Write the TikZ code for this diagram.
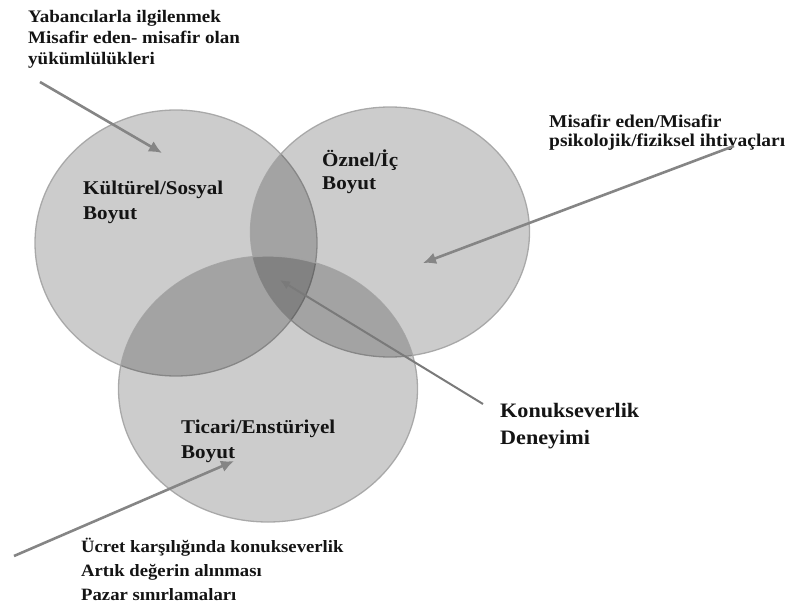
\documentclass[tikz,border=0pt]{standalone}
\usepackage{fontspec}
\setmainfont{Liberation Serif}[FakeStretch=1.08]
\usetikzlibrary{arrows.meta,shapes.geometric}
\begin{document}
\begin{tikzpicture}[x=1pt,y=-1pt,
  venn/.style={ellipse, draw=black!36, line width=1.3pt, fill=black, fill opacity=0.2, draw opacity=0.9, inner sep=0pt},
  lbl/.style={text=black!92, align=left, anchor=base west, inner sep=0pt},
  arr/.style={draw=black!48, line width=2.6pt, -{Latex[length=13pt,width=12pt]}},
]
\useasboundingbox (0,0) rectangle (792,612);
% circles
\node[venn, minimum width=282pt, minimum height=266pt] (kul) at (176,243) {};
\node[venn, minimum width=279pt, minimum height=250pt] (ozn) at (390,232) {};
\node[venn, minimum width=299pt, minimum height=266pt] (tic) at (268,389) {};
% circle labels (anchored at baseline of last line)
\node[lbl, font=\bfseries\fontsize{19.5}{25}\selectfont] (tkul) at (83,220) {Kültürel/Sosyal\\Boyut};
\node[lbl, font=\bfseries\fontsize{19.5}{23}\selectfont] (tozn) at (322,190) {Öznel/İç\\Boyut};
\node[lbl, font=\bfseries\fontsize{19.5}{25}\selectfont] (ttic) at (181,458) {Ticari/Enstüriyel\\Boyut};
% outer labels
\node[lbl, font=\bfseries\fontsize{17.6}{21}\selectfont] (tyab) at (28,65) {Yabancılarla ilgilenmek\\Misafir eden- misafir olan\\yükümlülükleri};
\node[lbl, font=\bfseries\fontsize{18}{19.5}\selectfont] (tmis) at (549,147) {Misafir eden/Misafir\\psikolojik/fiziksel ihtiyaçları};
\node[lbl, font=\bfseries\fontsize{20.5}{27}\selectfont] (tkon) at (500,444) {Konukseverlik\\Deneyimi};
\node[lbl, font=\bfseries\fontsize{17.3}{24}\selectfont] (tucr) at (81,600) {Ücret karşılığında konukseverlik\\Artık değerin alınması\\Pazar sınırlamaları};
% arrow endpoints
\coordinate (a1s) at (40,82);
\coordinate (a1e) at (162,153);
\coordinate (a2s) at (734,146);
\coordinate (a2e) at (423,263);
\coordinate (a3s) at (483,404);
\coordinate (a3e) at (280,280);
\coordinate (a4s) at (14,556);
\coordinate (a4e) at (234,461);
\draw[arr] (a1s) -- (a1e);
\draw[arr] (a2s) -- (a2e);
\draw[arr, draw=black!52, line width=2pt, -{Latex[length=10pt,width=9pt]}] (a3s) -- (a3e);
\draw[arr] (a4s) -- (a4e);
\end{tikzpicture}
\end{document}
